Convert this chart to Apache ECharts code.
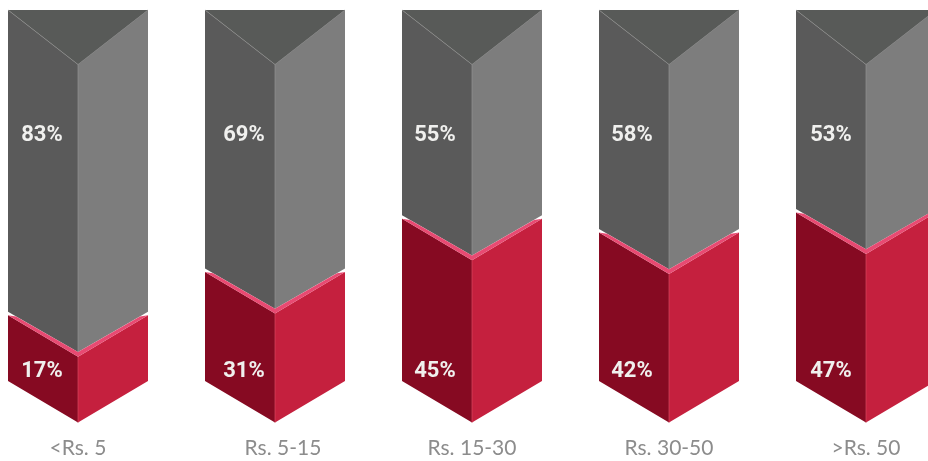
<!DOCTYPE html>
<html>
<head>
<meta charset="utf-8">
<style>
html, body { margin: 0; padding: 0; background: #fff; }
#chart { width: 928px; height: 461px; overflow: hidden; }
</style>
<script src="https://cdn.jsdelivr.net/npm/echarts@6/dist/echarts.min.js"></script>
</head>
<body>
<div id="chart"></div>
<script>
"use strict";
const categories = ['<Rs. 5', 'Rs. 5-15', 'Rs. 15-30', 'Rs. 30-50', '>Rs. 50'];
const greyValues = [83, 69, 55, 58, 53];
const redValues = [17, 31, 45, 42, 47];
// height of the red block as drawn, the picture is not quite to scale with its labels
const redDrawn = [17.7, 29.4, 43.7, 40.0, 45.4];

const chart = echarts.init(document.getElementById('chart'));

// pixel sizes of the prism
const HALF_WIDTH = 70;
const CAP_DROP = 54.5;
const CHEVRON_DROP = 41.5;
const GAP = 3.5;
const BAND = 4.8;
const SLOPE = CHEVRON_DROP / HALF_WIDTH;
const labelShift = [-36, -31, -37, -37, -35];

function renderPrism(params, api) {
    const i = api.value(0);
    const red = api.value(1);
    const base = api.coord([i, 0]);
    const level = api.coord([i, red]);
    const roof = api.coord([i, 100]);
    const cx = base[0];
    const l = cx - HALF_WIDTH;
    const r = cx + HALF_WIDTH;
    const y0 = base[1];
    const y1 = level[1];
    const y2 = roof[1];
    const poly = (points, fill) => ({ type: 'polygon', shape: { points }, style: { fill } });
    const seam = (x1, ya, x2, yb, stroke) => ({
        type: 'line',
        shape: { x1, y1: ya, x2, y2: yb },
        style: { stroke, lineWidth: 0.7 }
    });
    const text = (x, y, str) => ({
        type: 'text',
        style: {
            x, y, text: str,
            fill: '#f0f0ee',
            font: 'bold 22px Roboto, sans-serif',
            align: 'center',
            verticalAlign: 'middle'
        }
    });
    const chevronTop = y1 + CHEVRON_DROP;
    const greyEdge = y1 - GAP;
    const greyTip = chevronTop - BAND;
    // the white sliver closes 8px in from the outer edge
    const bandStart = greyEdge + 8 * SLOPE;
    return {
        type: 'group',
        children: [
            // grey block
            poly([[l, y2], [cx, y2 + CAP_DROP], [cx, greyTip], [l, greyEdge]], '#5a5a5a'),
            poly([[r, y2], [cx, y2 + CAP_DROP], [cx, greyTip], [r, greyEdge]], '#7d7d7d'),
            poly([[l, y2], [r, y2], [cx, y2 + CAP_DROP]], '#585a58'),
            // red block
            poly([[l, y1], [cx, chevronTop], [cx, y0 + CHEVRON_DROP], [l, y0]], '#860a22'),
            poly([[r, y1], [cx, chevronTop], [cx, y0 + CHEVRON_DROP], [r, y0]], '#c5203e'),
            // pink band over the chevron
            poly([[l, y1], [l + 8, bandStart], [cx, greyTip], [r - 8, bandStart], [r, y1], [cx, chevronTop]], '#e84a72'),
            seam(l, y2, cx, y2 + CAP_DROP, '#8a8a88'),
            seam(r, y2, cx, y2 + CAP_DROP, '#7d7d7d'),
            seam(cx, y2 + CAP_DROP, cx, greyTip, '#949494'),
            seam(cx, chevronTop, cx, y0 + CHEVRON_DROP, '#d8485f'),
            text(cx + labelShift[i], 135, greyValues[i] + '%'),
            text(cx + labelShift[i], 371, redValues[i] + '%')
        ]
    };
}

chart.setOption({
    animation: false,
    grid: { left: -20.5, right: -36.5, top: 10, bottom: 80, outerBoundsMode: 'none' },
    xAxis: {
        type: 'category',
        data: categories.map((name, i) => ({
            value: name,
            textStyle: i === 1 ? { padding: [0, 0, 0, 16] } : {}
        })),
        axisLine: { show: false },
        axisTick: { show: false },
        axisLabel: {
            margin: 57,
            color: '#8c8c8c',
            fontSize: 21,
            fontFamily: 'Lato, sans-serif'
        }
    },
    yAxis: { type: 'value', min: 0, max: 100, show: false },
    series: [{
        type: 'custom',
        renderItem: renderPrism,
        clip: false,
        silent: true,
        encode: { x: 0, y: 1 },
        data: redDrawn.map((v, i) => [i, v])
    }]
});
</script>
</body>
</html>
